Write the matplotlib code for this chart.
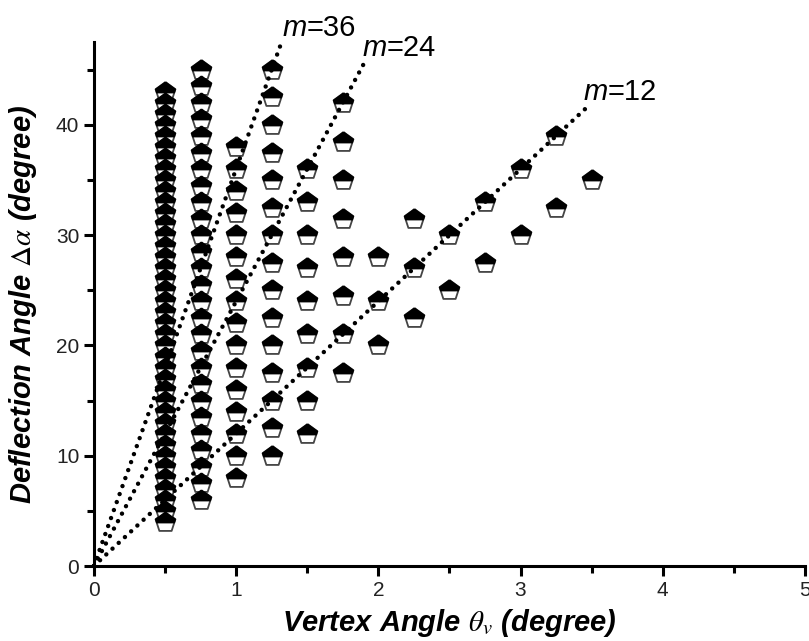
import numpy as np
import matplotlib.pyplot as plt
from matplotlib.ticker import MultipleLocator

plt.rcParams["mathtext.fontset"] = "stix"

# vertex angle columns and the deflection angles measured in each
x_cols = [0.5, 0.75, 1.0, 1.25, 1.5, 1.75, 2.0, 2.25, 2.5, 2.75, 3.0, 3.25, 3.5]
y_cols = [
    [4, 5, 6, 7, 8, 9, 10, 11, 12, 13, 14, 15, 16, 17, 18, 19, 20, 21, 22, 23,
     24, 25, 26, 27, 28, 29, 30, 31, 32, 33, 34, 35, 36, 37, 38, 39, 40, 41, 42, 43],
    [6, 7.5, 9, 10.5, 12, 13.5, 15, 16.5, 18, 19.5, 21, 22.5, 24, 25.5, 27, 28.5,
     30, 31.5, 33, 34.5, 36, 37.5, 39, 40.5, 42, 43.5, 45],
    [8, 10, 12, 14, 16, 18, 20, 22, 24, 26, 28, 30, 32, 34, 36, 38],
    [10, 12.5, 15, 17.5, 20, 22.5, 25, 27.5, 30, 32.5, 35, 37.5, 40, 42.5, 45],
    [12, 15, 18, 21, 24, 27, 30, 33, 36],
    [17.5, 21, 24.5, 28, 31.5, 35, 38.5, 42],
    [20, 24, 28],
    [22.5, 27, 31.5],
    [25, 30],
    [27.5, 33],
    [30, 36],
    [32.5, 39],
    [35],
]

# dotted guide lines through the origin: slope m, end of line on x
m_vals = [36, 24, 12]
line_end = [1.32, 1.92, 3.46]
label_pos = [(1.325, 48.8), (1.89, 47.0), (3.44, 43.0)]

# pentagon (radius 1) and its black upper part, same scale since both hold (0, 1)
ang = np.deg2rad([90, 162, 234, 306, 18, 90])
pent = list(zip(np.cos(ang), np.sin(ang)))
cut = -0.02
xc = 0.951 - (0.309 - cut) / 1.118 * 0.363
top_part = [(0, 1), (-0.951, 0.309), (-xc, cut), (xc, cut), (0.951, 0.309), (0, 1)]

fig = plt.figure(figsize=(8.09, 6.41), dpi=100)
ax = fig.add_axes([0.116, 0.117, 0.879, 0.817])

for m, xe, (lx, ly) in zip(m_vals, line_end, label_pos):
    xs = np.array([0, xe])
    ax.plot(xs, m * xs, color="black", linewidth=3.2, linestyle=(0, (0.01, 1.9)),
            dash_capstyle="round", zorder=3, clip_on=False)
    t = ax.text(lx, ly, "m", fontsize=21, family="Liberation Sans", style="italic",
                ha="left", va="center", clip_on=False)
    ax.annotate("=" + str(m), xy=(1, 0), xycoords=t, fontsize=21,
                family="Liberation Sans", ha="left", va="bottom")

for xv, ys in zip(x_cols, y_cols):
    xx = [xv] * len(ys)
    ax.plot(xx, ys, linestyle="none", marker=pent, markersize=15,
            markerfacecolor="white", markeredgecolor="#444444",
            markeredgewidth=1.3, zorder=2, clip_on=False)
    ax.plot(xx, ys, linestyle="none", marker=top_part, markersize=15,
            markerfacecolor="black", markeredgecolor="black",
            markeredgewidth=1.0, zorder=2, clip_on=False)

ax.set_xlim(0, 5)
ax.set_ylim(0, 47.5)
ax.spines["top"].set_visible(False)
ax.spines["right"].set_visible(False)
for s in ["left", "bottom"]:
    ax.spines[s].set_linewidth(2.2)

ax.xaxis.set_major_locator(MultipleLocator(1))
ax.xaxis.set_minor_locator(MultipleLocator(0.5))
ax.yaxis.set_major_locator(MultipleLocator(10))
ax.yaxis.set_minor_locator(MultipleLocator(5))
ax.tick_params(which="major", direction="out", length=7, width=2.2, labelsize=15,
               labelcolor="#222222")
ax.tick_params(which="minor", direction="out", length=5, width=2.2)
for lab in ax.get_xticklabels() + ax.get_yticklabels():
    lab.set_family("Liberation Sans")

ax.set_xlabel(r"Vertex Angle $\theta_v$ (degree)", fontsize=21, fontweight="bold",
              style="italic", family="Liberation Sans", labelpad=5)
ax.set_ylabel(r"Deflection Angle $\Delta\alpha$ (degree)", fontsize=21, fontweight="bold",
              style="italic", family="Liberation Sans", labelpad=12)

fig.savefig("out.png", dpi=100)
